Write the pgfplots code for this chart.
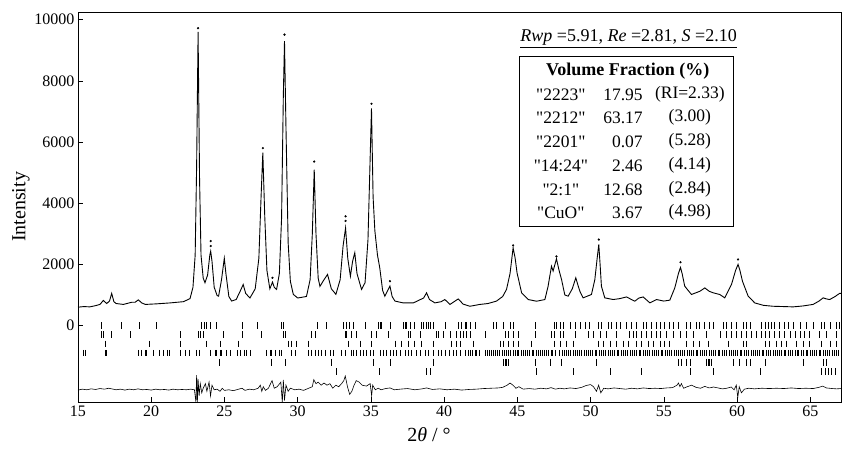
\documentclass[border=0pt]{standalone}
\usepackage{fontspec}
\setmainfont{Liberation Serif}[Ligatures=TeXOff]
\usepackage{pgfplots}
\pgfplotsset{compat=1.18}

\begin{document}
\begin{tikzpicture}
\useasboundingbox (-78pt,-54pt) rectangle (764pt,402pt);
\begin{axis}[
    at={(0,0)}, anchor=south west,
    width=763pt, height=390pt, scale only axis,
    xmin=15, xmax=67.1, ymin=-2500, ymax=10250,
    xtick={15,20,...,65}, ytick={0,2000,...,10000},
    xtick pos=bottom, ytick pos=left,
    scaled y ticks=false,
    /pgf/number format/1000 sep={},
    /pgf/number format/assume math mode=true,
    tick label style={font=\fontsize{16}{18}\selectfont},
    xlabel={2\textit{θ} / °}, ylabel={Intensity},
    label style={font=\fontsize{20}{22}\selectfont},
    xlabel style={at={(axis description cs:0.46,0)}, anchor=north, yshift=-22pt},
    ylabel style={yshift=-2pt},
    major tick length=5pt,
    tick style={black, line width=0.6pt},
    axis line style={line width=0.7pt},
    clip=true,
]
% calculated profile
\addplot[black, line width=0.9pt] coordinates {
(15.0,600) (15.4,620) (15.8,610) (16.2,650) (16.5,690) (16.73,820) (16.96,720)
(17.15,800) (17.3,1050) (17.45,780) (17.6,720) (18.1,690) (18.66,760) (18.9,760)
(19.12,840) (19.35,740) (19.6,690) (20.4,710) (21.3,740) (22.2,780) (22.65,880)
(22.85,1250) (23.0,2300) (23.1,5200) (23.2,9600) (23.3,4800) (23.4,2300) (23.55,1550)
(23.67,1400) (23.85,1650) (24.0,2300) (24.06,2430) (24.15,2100) (24.3,1250) (24.5,980)
(24.6,960) (24.8,1500) (24.99,2200) (25.1,1700) (25.3,950) (25.49,800) (25.8,850)
(26.1,1150) (26.28,1340) (26.45,1050) (26.74,900) (27.1,1200) (27.35,2200) (27.5,4200)
(27.62,5650) (27.75,3600) (27.9,1800) (28.1,1200) (28.28,1420) (28.4,1250) (28.56,1180)
(28.75,1700) (28.9,3500) (29.02,7500) (29.1,9300) (29.2,6500) (29.35,2700) (29.5,1450)
(29.7,1020) (30.0,900) (30.6,950) (30.85,1500) (31.0,3000) (31.13,5100) (31.25,3000)
(31.4,1550) (31.52,1280) (31.8,1500) (32.04,1670) (32.3,1200) (32.61,1020) (32.9,1500)
(33.1,2600) (33.27,3190) (33.42,2200) (33.6,1610) (33.75,2100) (33.9,2380) (34.05,1700)
(34.36,1180) (34.6,1400) (34.8,2800) (34.95,5500) (35.04,7100) (35.15,4200) (35.27,3100)
(35.45,2300) (35.6,1900) (35.8,1150) (35.95,960) (36.15,1150) (36.3,1290) (36.45,950)
(36.64,800) (37.2,740) (37.9,740) (38.6,900) (38.8,1070) (39.0,850) (39.37,740)
(39.8,780) (40.05,850) (40.4,690) (40.96,870) (41.3,700) (41.76,630) (42.44,690)
(43.0,720) (43.58,800) (44.0,950) (44.26,1180) (44.5,1700) (44.71,2540) (44.85,2200)
(44.98,1720) (45.29,1070) (45.74,850) (46.31,795) (46.88,850) (47.1,1285) (47.33,1940)
(47.44,1780) (47.67,2180) (47.85,1800) (48.02,1500) (48.24,1000) (48.47,960) (48.75,1200)
(48.99,1560) (49.15,1300) (49.27,1120) (49.49,905) (50.06,1015) (50.29,1500) (50.45,2200)
(50.56,2650) (50.65,2000) (50.74,1285) (50.97,905) (51.54,850) (52.0,880) (52.45,935)
(53.02,795) (53.3,900) (53.59,935) (54.05,740) (54.5,850) (55.0,800) (55.41,830)
(55.75,1230) (56.0,1700) (56.14,1900) (56.25,1700) (56.43,1285) (56.89,1015) (57.46,1120)
(57.8,1230) (58.1,1120) (58.37,1070) (58.82,1015) (59.16,905) (59.62,1340) (59.9,1800)
(60.07,2000) (60.2,1800) (60.37,1450) (60.76,960) (61.21,740) (61.8,660) (62.46,630)
(63.2,620) (63.83,610) (64.5,640) (65.19,690) (65.6,800) (65.88,905) (66.1,870)
(66.33,850) (66.7,950) (67.0,1050) (67.1,1050)
};
% observed points above the calculated peaks
\addplot[only marks, mark=*, mark size=0.9pt, black] coordinates {
(23.2,9720) (24.06,2760) (24.06,2600) (27.62,5800) (28.28,1560) (29.1,9510)
(31.13,5360) (33.27,3570) (33.27,3420) (35.04,7250) (36.3,1450) (44.71,2620)
(47.67,2260) (50.56,2810) (56.14,2070) (60.07,2160)
};
% reflection markers: "2223"
\addplot[only marks, mark=|, mark size=3.3pt, mark options={line width=0.7pt}] coordinates {
(16.62,0) (17.95,0) (19.2,0) (20.37,0) (23.44,0) (23.6,0) (23.74,0) (24.05,0) (24.45,0)
(26.23,0) (27.25,0) (28.9,0) (29.02,0) (31.34,0) (31.97,0) (33.11,0) (33.29,0) (33.52,0)
(33.79,0) (34.59,0) (35.5,0) (35.62,0) (35.73,0) (36.3,0) (37.21,0) (37.32,0) (37.44,0)
(37.66,0) (38.0,0) (38.46,0) (38.57,0) (38.8,0) (38.91,0) (39.07,0) (39.26,0) (40.05,0)
(40.96,0) (41.19,0) (41.42,0) (41.53,0) (41.76,0) (42.1,0) (43.36,0) (43.58,0) (44.04,0)
(44.49,0) (44.72,0) (46.2,0) (47.56,0) (47.68,0) (47.91,0) (48.13,0) (48.59,0) (48.93,0)
(49.27,0) (49.61,0) (49.95,0) (50.52,0) (50.75,0) (51.21,0) (51.43,0) (51.77,0) (52.0,0)
(52.46,0) (52.8,0) (53.14,0) (53.59,0) (53.82,0) (54.16,0) (54.5,0) (54.73,0) (55.07,0)
(55.41,0) (55.64,0) (55.98,0) (56.55,0) (56.78,0) (57.23,0) (57.46,0) (57.8,0) (58.14,0)
(58.37,0) (59.06,0) (59.28,0) (59.62,0) (59.97,0) (60.42,0) (60.65,0) (60.88,0) (61.67,0)
(61.9,0) (62.13,0) (62.35,0) (62.58,0) (62.92,0) (63.26,0) (63.49,0) (63.83,0) (64.29,0)
(64.74,0) (65.2,0) (65.77,0) (65.99,0) (66.34,0) (66.79,0) (67.02,0)
};
% "2212"
\addplot[only marks, mark=|, mark size=3.3pt, mark options={line width=0.7pt}] coordinates {
(16.62,-300) (16.73,-300) (17.25,-300) (18.58,-300) (21.96,-300) (23.21,-300) (23.33,-300)
(23.56,-300) (24.94,-300) (26.2,-300) (27.54,-300) (29.05,-300) (29.13,-300) (30.95,-300)
(31.18,-300) (33.23,-300) (33.34,-300) (33.68,-300) (34.02,-300) (35.05,-300) (35.39,-300)
(36.18,-300) (37.55,-300) (37.66,-300) (38.35,-300) (39.48,-300) (39.6,-300) (39.94,-300)
(40.4,-300) (40.85,-300) (41.08,-300) (41.31,-300) (41.54,-300) (41.76,-300) (42.79,-300)
(44.15,-300) (44.38,-300) (44.72,-300) (45.06,-300) (46.2,-300) (47.34,-300) (47.56,-300)
(47.91,-300) (48.13,-300) (48.93,-300) (49.84,-300) (50.18,-300) (50.64,-300) (51.09,-300)
(51.77,-300) (52.68,-300) (52.91,-300) (53.14,-300) (53.48,-300) (53.82,-300) (54.16,-300)
(54.5,-300) (54.73,-300) (55.19,-300) (55.64,-300) (56.1,-300) (56.55,-300) (57.01,-300)
(57.92,-300) (58.83,-300) (59.28,-300) (59.62,-300) (59.97,-300) (60.31,-300) (60.65,-300)
(60.99,-300) (61.33,-300) (61.67,-300) (61.9,-300) (62.24,-300) (62.58,-300) (62.92,-300)
(63.26,-300) (63.61,-300) (63.95,-300) (64.29,-300) (64.63,-300) (64.97,-300) (65.65,-300)
(66.11,-300) (66.79,-300)
};
% "2201"
\addplot[only marks, mark=|, mark size=3.3pt, mark options={line width=0.7pt}] coordinates {
(16.87,-600) (19.87,-600) (21.96,-600) (23.78,-600) (24.69,-600) (25.97,-600) (29.36,-600)
(29.58,-600) (29.93,-600) (30.72,-600) (33.45,-600) (34.25,-600) (35.05,-600) (36.64,-600)
(37.09,-600) (37.55,-600) (38.0,-600) (38.46,-600) (39.26,-600) (40.51,-600) (40.85,-600)
(41.08,-600) (41.99,-600) (43.81,-600) (44.04,-600) (44.38,-600) (44.72,-600) (45.06,-600)
(45.97,-600) (47.56,-600) (47.91,-600) (48.36,-600) (48.82,-600) (50.52,-600) (50.86,-600)
(51.32,-600) (51.77,-600) (52.23,-600) (52.57,-600) (53.14,-600) (53.48,-600) (53.94,-600)
(54.28,-600) (54.73,-600) (55.07,-600) (55.41,-600) (56.55,-600) (57.01,-600) (57.46,-600)
(58.03,-600) (59.4,-600) (60.42,-600) (60.65,-600) (61.9,-600) (62.24,-600) (62.7,-600)
(63.04,-600) (63.38,-600) (64.06,-600) (64.52,-600) (64.97,-600) (65.77,-600) (66.34,-600)
(66.79,-600)
};
% "14:24"
\addplot[only marks, mark=|, mark size=3.3pt, mark options={line width=0.7pt}] coordinates {
(15.36,-900) (15.48,-900) (16.84,-900) (16.96,-900) (19.12,-900) (19.35,-900) (19.57,-900)
(19.69,-900) (20.14,-900) (20.55,-900) (20.83,-900) (21.12,-900) (21.24,-900) (21.96,-900)
(22.31,-900) (22.6,-900) (23.1,-900) (23.28,-900) (24.01,-900) (24.35,-900) (24.47,-900)
(24.69,-900) (24.81,-900) (25.15,-900) (25.37,-900) (25.87,-900) (26.06,-900) (26.33,-900)
(26.51,-900) (26.74,-900) (27.88,-900) (28.11,-900) (28.22,-900) (28.45,-900) (28.74,-900)
(28.9,-900) (29.58,-900) (29.81,-900) (30.72,-900) (30.95,-900) (31.18,-900) (31.41,-900)
(31.63,-900) (31.86,-900) (32.2,-900) (32.43,-900) (33.0,-900) (33.23,-900) (33.68,-900)
(33.79,-900) (34.02,-900) (34.25,-900) (34.48,-900) (34.7,-900) (34.93,-900) (35.16,-900)
(35.62,-900) (35.84,-900) (36.07,-900) (36.3,-900) (36.53,-900) (36.75,-900) (36.98,-900)
(37.32,-900) (37.55,-900) (37.78,-900) (38.12,-900) (38.35,-900) (38.69,-900) (38.91,-900)
(39.26,-900) (39.6,-900) (39.82,-900) (40.05,-900) (40.39,-900) (40.62,-900) (40.85,-900)
(41.08,-900) (41.42,-900) (41.64,-900) (41.8,-900) (41.95,-900) (42.1,-900) (42.22,-900)
(42.4,-900) (42.8,-900) (42.95,-900) (43.1,-900) (43.2,-900) (43.35,-900) (43.5,-900)
(43.62,-900) (43.8,-900) (43.95,-900) (44.1,-900) (44.22,-900) (44.4,-900) (44.55,-900)
(44.7,-900) (44.85,-900) (45.0,-900) (45.1,-900) (45.25,-900) (45.4,-900) (45.55,-900)
(45.7,-900) (45.82,-900) (46.0,-900) (46.12,-900) (46.3,-900) (46.45,-900) (46.6,-900)
(46.7,-900) (46.85,-900) (47.0,-900) (47.15,-900) (47.3,-900) (47.42,-900) (47.6,-900)
(47.9,-900) (48.05,-900) (48.2,-900) (48.32,-900) (48.5,-900) (48.62,-900) (48.8,-900)
(48.95,-900) (49.1,-900) (49.22,-900) (49.4,-900) (49.55,-900) (49.7,-900) (49.82,-900)
(50.0,-900) (50.12,-900) (50.3,-900) (50.42,-900) (50.6,-900) (50.75,-900) (50.9,-900)
(51.02,-900) (51.2,-900) (51.35,-900) (51.5,-900) (51.62,-900) (51.8,-900) (51.92,-900)
(52.1,-900) (52.25,-900) (52.4,-900) (52.52,-900) (52.7,-900) (52.82,-900) (53.0,-900)
(53.15,-900) (53.3,-900) (53.42,-900) (53.6,-900) (53.75,-900) (53.9,-900) (54.02,-900)
(54.2,-900) (54.35,-900) (54.5,-900) (54.62,-900) (54.8,-900) (54.92,-900) (55.1,-900)
(55.25,-900) (55.4,-900) (55.52,-900) (55.7,-900) (55.85,-900) (56.0,-900) (56.15,-900)
(56.3,-900) (56.42,-900) (56.6,-900) (56.72,-900) (56.9,-900) (57.05,-900) (57.2,-900)
(57.32,-900) (57.5,-900) (57.65,-900) (57.8,-900) (57.92,-900) (58.1,-900) (58.22,-900)
(58.4,-900) (58.55,-900) (58.7,-900) (58.82,-900) (59.0,-900) (59.12,-900) (59.3,-900)
(59.45,-900) (59.6,-900) (59.72,-900) (59.9,-900) (60.05,-900) (60.2,-900) (60.32,-900)
(60.5,-900) (60.62,-900) (60.8,-900) (60.95,-900) (61.1,-900) (61.22,-900) (61.4,-900)
(61.55,-900) (61.7,-900) (61.82,-900) (62.0,-900) (62.12,-900) (62.3,-900) (62.45,-900)
(62.6,-900) (62.72,-900) (62.9,-900) (63.05,-900) (63.2,-900) (63.32,-900) (63.5,-900)
(63.62,-900) (63.8,-900) (63.95,-900) (64.1,-900) (64.22,-900) (64.4,-900) (64.55,-900)
(64.7,-900) (64.82,-900) (65.0,-900) (65.12,-900) (65.3,-900) (65.45,-900) (65.6,-900)
(65.72,-900) (65.9,-900) (66.05,-900) (66.2,-900) (66.32,-900) (66.5,-900) (66.62,-900)
(66.8,-900) (66.95,-900)
};
% "2:1"
\addplot[only marks, mark=|, mark size=3.3pt, mark options={line width=0.7pt}] coordinates {
(24.65,-1200) (28.22,-1200) (29.13,-1200) (32.32,-1200) (35.16,-1200) (36.3,-1200)
(39.26,-1200) (44.04,-1200) (44.15,-1200) (44.27,-1200) (44.38,-1200) (46.2,-1200)
(47.22,-1200) (48.02,-1200) (50.41,-1200) (55.98,-1200) (56.21,-1200) (56.55,-1200)
(56.78,-1200) (57.92,-1200) (58.03,-1200) (58.14,-1200) (58.26,-1200) (59.74,-1200)
(60.19,-1200) (60.65,-1200) (60.88,-1200) (61.9,-1200) (64.52,-1200) (65.88,-1200)
(66.11,-1200)
};
% "CuO"
\addplot[only marks, mark=|, mark size=3.3pt, mark options={line width=0.7pt}] coordinates {
(32.66,-1500) (35.61,-1500) (38.8,-1500) (39.03,-1500) (46.31,-1500) (48.82,-1500)
(51.32,-1500) (53.48,-1500) (56.78,-1500) (58.37,-1500) (61.56,-1500) (65.77,-1500)
(66.0,-1500) (66.22,-1500) (66.45,-1500) (66.68,-1500)
};
% difference curve
\addplot[black, line width=0.6pt] coordinates {
(15.0,-2110) (15.3,-2080) (15.6,-2100) (15.9,-2070) (16.2,-2090) (16.5,-2060) (16.8,-2080)
(17.1,-2050) (17.3,-2070) (17.6,-2100) (17.9,-2080) (18.2,-2110) (18.5,-2080) (18.8,-2100)
(19.1,-2070) (19.4,-2100) (19.7,-2090) (20.0,-2110) (20.3,-2080) (20.6,-2100) (20.9,-2090)
(21.2,-2110) (21.5,-2080) (21.8,-2100) (22.1,-2090) (22.4,-2100) (22.7,-2080) (22.95,-2100)
(23.05,-2500) (23.1,-1620) (23.15,-2520) (23.2,-1750) (23.27,-2300) (23.35,-1900) (23.45,-2200)
(23.55,-2050) (23.7,-1900) (23.8,-2150) (23.95,-1850) (24.05,-2300) (24.15,-1950) (24.3,-2100)
(24.5,-2080) (24.7,-2150) (24.85,-2050) (25.0,-2120) (25.3,-2100) (25.6,-2130) (25.9,-2090)
(26.2,-2050) (26.4,-2120) (26.7,-2080) (27.0,-2100) (27.3,-2050) (27.45,-1950) (27.55,-2150)
(27.65,-2000) (27.8,-2120) (28.0,-2050) (28.25,-1800) (28.4,-2050) (28.6,-2000) (28.85,-1850)
(28.95,-2520) (29.02,-1780) (29.1,-2450) (29.2,-1950) (29.35,-2150) (29.5,-2050) (29.8,-2100)
(30.1,-2080) (30.4,-2120) (30.7,-2060) (31.0,-2000) (31.1,-1770) (31.25,-1900) (31.4,-1850)
(31.6,-1950) (31.8,-1880) (32.0,-1950) (32.2,-1900) (32.4,-2050) (32.6,-1950) (32.8,-2000)
(33.0,-1900) (33.15,-1800) (33.25,-1650) (33.4,-2000) (33.55,-2250) (33.7,-2150) (33.85,-1950)
(34.0,-1800) (34.2,-1850) (34.4,-1950) (34.7,-1980) (34.95,-1900) (35.05,-2300) (35.12,-1950)
(35.3,-2100) (35.5,-2050) (35.7,-2100) (36.0,-2060) (36.3,-2040) (36.6,-2100) (37.0,-2080)
(37.5,-2060) (38.0,-2100) (38.5,-2070) (38.8,-2040) (39.2,-2090) (39.7,-2070) (40.2,-2100)
(40.7,-2080) (41.2,-2110) (41.7,-2090) (42.2,-2080) (42.7,-2060) (43.2,-2050) (43.7,-2040)
(44.0,-2020) (44.3,-1950) (44.5,-1880) (44.7,-1950) (44.9,-2050) (45.1,-2000) (45.4,-2080)
(45.8,-2060) (46.2,-2080) (46.6,-2050) (47.0,-2070) (47.3,-2030) (47.6,-2080) (47.9,-2050)
(48.2,-2070) (48.6,-2040) (49.0,-2060) (49.4,-2020) (49.7,-1960) (50.0,-1930) (50.2,-2000)
(50.4,-2150) (50.55,-1950) (50.7,-2200) (50.9,-2050) (51.2,-2070) (51.6,-2040) (52.0,-2060)
(52.4,-2080) (52.8,-2050) (53.2,-2070) (53.6,-2040) (54.0,-2060) (54.4,-2050) (54.8,-2060)
(55.2,-2040) (55.6,-2030) (55.9,-1950) (56.0,-1880) (56.1,-2000) (56.2,-1900) (56.35,-2050)
(56.6,-2000) (56.9,-1950) (57.2,-2020) (57.5,-2050) (57.8,-1990) (58.1,-2040) (58.4,-2010)
(58.7,-2040) (59.0,-2070) (59.3,-2050) (59.6,-2010) (59.8,-2100) (59.95,-1950) (60.05,-2350)
(60.15,-2000) (60.3,-2200) (60.5,-2080) (60.8,-2050) (61.2,-2070) (61.7,-2050) (62.2,-2060)
(62.7,-2050) (63.2,-2060) (63.7,-2040) (64.2,-2060) (64.7,-2050) (65.2,-2060) (65.6,-2020)
(65.85,-1980) (66.1,-2040) (66.5,-2060) (66.8,-2070) (67.1,-2060)
};
% statistics and volume fraction table
\node[font=\fontsize{18}{20}\selectfont] at (axis cs:52.6,9380)
  {\underline{\textit{Rwp} =5.91, \textit{Re} =2.81, \textit{S} =2.10}};
\draw[fill=white, line width=0.7pt] (axis cs:45.17,3235) rectangle (axis cs:59.78,8790);
\node[font=\fontsize{18}{20}\selectfont\bfseries] at (axis cs:52.54,8300) {Volume Fraction (\%)};
\begin{scope}[every node/.style={font=\fontsize{17.5}{20}\selectfont}]
\node at (axis cs:47.97,7550) {"2223"};
\node at (axis cs:47.97,6800) {"2212"};
\node at (axis cs:47.97,6013) {"2201"};
\node at (axis cs:47.97,5230) {"14:24"};
\node at (axis cs:47.97,4445) {"2:1"};
\node at (axis cs:47.97,3693) {"CuO"};
\node[anchor=east] at (axis cs:53.8,7550) {17.95};
\node[anchor=east] at (axis cs:53.8,6800) {63.17};
\node[anchor=east] at (axis cs:53.8,6013) {0.07};
\node[anchor=east] at (axis cs:53.8,5230) {2.46};
\node[anchor=east] at (axis cs:53.8,4445) {12.68};
\node[anchor=east] at (axis cs:53.8,3693) {3.67};
\node at (axis cs:56.78,7550) {(RI=2.33)};
\node at (axis cs:56.78,6800) {(3.00)};
\node at (axis cs:56.78,6013) {(5.28)};
\node at (axis cs:56.78,5230) {(4.14)};
\node at (axis cs:56.78,4445) {(2.84)};
\node at (axis cs:56.78,3693) {(4.98)};
\end{scope}
\end{axis}
\end{tikzpicture}
\end{document}
